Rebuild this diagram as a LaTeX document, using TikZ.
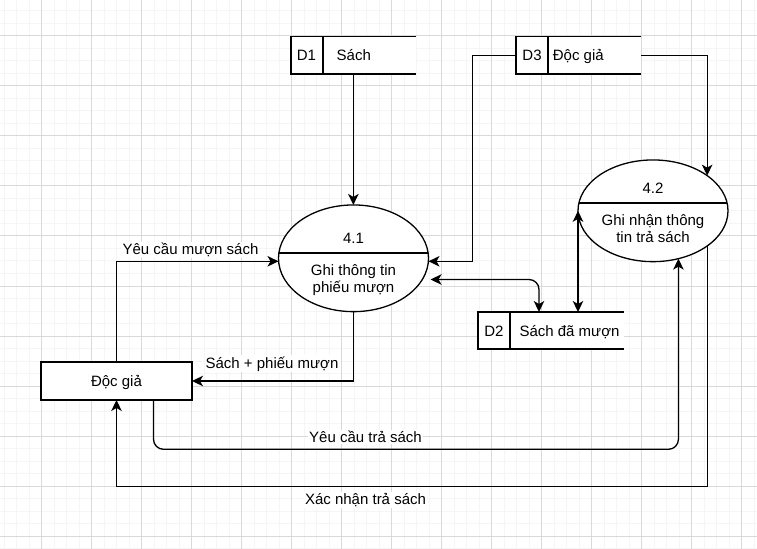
\documentclass[tikz,border=0pt]{standalone}
\usepackage{fontspec}
\setmainfont{Liberation Sans}
\usetikzlibrary{arrows.meta,shapes.geometric}
\begin{document}
\begin{tikzpicture}[x=1bp,y=-1bp,
  every node/.style={font=\fontsize{15bp}{17.6bp}\selectfont, inner sep=0pt, outer sep=0pt},
  minorgrid/.style={draw=black!4, line width=1bp},
  majorgrid/.style={draw=black!15, line width=1bp},
  shapeline/.style={draw=black, line width=1.3bp},
  process/.style={ellipse, draw=black, line width=1.3bp, fill=white, minimum width=150bp},
  storefill/.style={rectangle, fill=white, draw=none},
  entity/.style={rectangle, draw=black, line width=1.3bp, fill=white, minimum width=151bp, minimum height=38bp},
  lbl/.style={anchor=base},
  elabel/.style={anchor=base, fill=white, inner sep=1bp},
  flow/.style={draw=black, line width=1.3bp, -{Stealth[length=11bp,width=10.5bp,inset=3bp]}},
  flowboth/.style={draw=black, line width=1.3bp, {Stealth[length=11bp,width=10.5bp,inset=3bp]}-{Stealth[length=11bp,width=10.5bp,inset=3bp]}},
]
\useasboundingbox[fill=white] (0,0) rectangle (757,549);
% grid
\foreach \i in {0,...,60} \draw[minorgrid] ({4+12.5*\i},0) -- ({4+12.5*\i},549);
\foreach \j in {0,...,43} \draw[minorgrid] (0,{11+12.5*\j}) -- (757,{11+12.5*\j});
\foreach \i in {0,...,14} \draw[majorgrid] ({41.5+50*\i},0) -- ({41.5+50*\i},549);
\foreach \j in {0,...,10} \draw[majorgrid] (0,{36+50*\j}) -- (757,{36+50*\j});

% processes
\node[process, minimum height=106.7bp] (p41) at (353.5,258.3) {};
\draw[shapeline] ([xshift=-74.6bp,yshift=5.3bp]p41.center) -- ([xshift=74.6bp,yshift=5.3bp]p41.center);
\node[lbl] (t41) at (353.5,243.5) {4.1};
\node[lbl] (t41a) at (353.5,275.5) {Ghi thông tin};
\node[lbl] (t41b) at (353.5,293) {phiếu mượn};

\node[process, minimum height=101.7bp] (p42) at (653,210.8) {};
\draw[shapeline] ([xshift=-74.1bp,yshift=7.8bp]p42.center) -- ([xshift=74.1bp,yshift=7.8bp]p42.center);
\node[lbl] (t42) at (653,193.3) {4.2};
\node[lbl] (t42a) at (653,225.2) {Ghi nhận thông};
\node[lbl] (t42b) at (653,242.8) {tin trả sách};

% data stores
\node[storefill, minimum width=124.7bp, minimum height=37.3bp] (d1) at (353.35,55.35) {};
\draw[shapeline] (d1.north east) -- (d1.north west) -- (d1.south west) -- (d1.south east);
\draw[shapeline] ([xshift=32bp]d1.north west) -- ([xshift=32bp]d1.south west);
\node[lbl] (d1id) at (306.5,61) {D1};
\node[lbl] (d1t) at (353.8,61) {Sách};

\node[storefill, minimum width=125bp, minimum height=37.3bp] (d3) at (578.5,55.35) {};
\draw[shapeline] (d3.north east) -- (d3.north west) -- (d3.south west) -- (d3.south east);
\draw[shapeline] ([xshift=32bp]d3.north west) -- ([xshift=32bp]d3.south west);
\node[lbl] (d3id) at (532,61) {D3};
\node[lbl] (d3t) at (578.3,61) {Độc giả};

\node[storefill, minimum width=146bp, minimum height=37bp] (d2) at (551,330.5) {};
\draw[shapeline] (d2.north east) -- (d2.north west) -- (d2.south west) -- (d2.south east);
\draw[shapeline] ([xshift=32bp]d2.north west) -- ([xshift=32bp]d2.south west);
\node[lbl] (d2id) at (494,336) {D2};
\node[lbl] (d2t) at (569.5,336) {Sách đã mượn};

% external entity
\node[entity] (dg) at (116.5,381) {};
\node[lbl] (dgt) at (116.5,386) {Độc giả};

% connectors
\draw[flow] (d1.south) -- (d1.south |- p41.north);
\draw[flow] (d3.west) -- ++(-43.5,0) |- ([yshift=-3bp]p41.east);
\draw[flow] (d3.east) -| (p42.33.5);
\draw[flowboth, rounded corners=10bp] ([xshift=2bp,yshift=-21.2bp]p41.east) -| ([xshift=-12bp]d2.north);
\draw[flowboth] (d2.north -| p42.west) -- (p42.west);
\draw[flow] (dg.north) |- ([yshift=-3bp]p41.west);
\draw[flow] (p41.south) |- (dg.east);
\draw[flow, rounded corners=10bp] ([xshift=37bp]dg.south) -- ++(0,49.3) -| (p42.-62);
\draw[flow] (p42.-33) |- ([yshift=-86.7bp]dg.south) -- (dg.south);

% connector labels
\node[elabel] (l1) at (190.5,255) {Yêu cầu mượn sách};
\node[elabel] (l2) at (272,368) {Sách + phiếu mượn};
\node[elabel] (l3) at (365.5,442.7) {Yêu cầu trả sách};
\node[elabel] (l4) at (365.5,504.3) {Xác nhận trả sách};
\end{tikzpicture}
\end{document}
